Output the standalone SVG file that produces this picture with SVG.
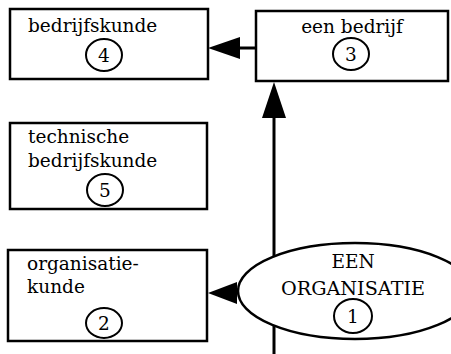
<svg xmlns="http://www.w3.org/2000/svg" width="451" height="354" viewBox="0 0 451 354">
<style>
.box{fill:#fff;stroke:#000;stroke-width:2.5}
.num{fill:none;stroke:#000;stroke-width:2}
.t{font-family:"DejaVu Serif","Liberation Serif",serif;font-size:18.5px;fill:#000}
.c{text-anchor:middle}
.ln{stroke:#000;stroke-width:3;fill:none}
.ah{fill:#000}
</style>
<rect width="451" height="354" fill="#fff"/>
<g id="connectors">
<line class="ln" x1="274" y1="116" x2="274" y2="354"/>
<polygon class="ah" points="274,82 262,118 286,118"/>
<line class="ln" x1="238" y1="48" x2="256" y2="48"/>
<polygon class="ah" points="208,48 240,37 240,59"/>
<line class="ln" x1="234" y1="293" x2="240" y2="293"/>
<polygon class="ah" points="208,293 237,282 237,304"/>
</g>
<g id="node4">
<rect class="box" x="10" y="9" width="198" height="70"/>
<text class="t" x="28" y="32">bedrijfskunde</text>
<ellipse class="num" cx="104" cy="55" rx="18" ry="16"/>
<text class="t c" x="104" y="61.5">4</text>
</g>
<g id="node3">
<rect class="box" x="256" y="11" width="192" height="70"/>
<text class="t c" x="352" y="33">een bedrijf</text>
<ellipse class="num" cx="351" cy="54" rx="18" ry="16"/>
<text class="t c" x="351" y="60.5">3</text>
</g>
<g id="node5">
<rect class="box" x="10" y="123" width="197" height="86"/>
<text class="t" x="28" y="143">technische</text>
<text class="t" x="28" y="167">bedrijfskunde</text>
<ellipse class="num" cx="105" cy="190" rx="18" ry="16"/>
<text class="t c" x="105" y="196.5">5</text>
</g>
<g id="node2">
<rect class="box" x="8" y="250" width="199" height="91"/>
<text class="t" x="27" y="270">organisatie-</text>
<text class="t" x="27" y="293">kunde</text>
<ellipse class="num" cx="104" cy="323" rx="18" ry="15"/>
<text class="t c" x="104" y="329.5">2</text>
</g>
<g id="node1">
<ellipse class="box" cx="355" cy="291" rx="117" ry="48"/>
<text class="t c" x="353" y="268">EEN</text>
<text class="t c" x="353" y="295" textLength="144" lengthAdjust="spacingAndGlyphs">ORGANISATIE</text>
<ellipse class="num" cx="353" cy="316" rx="19" ry="17"/>
<text class="t c" x="353" y="322.5">1</text>
</g>
</svg>
